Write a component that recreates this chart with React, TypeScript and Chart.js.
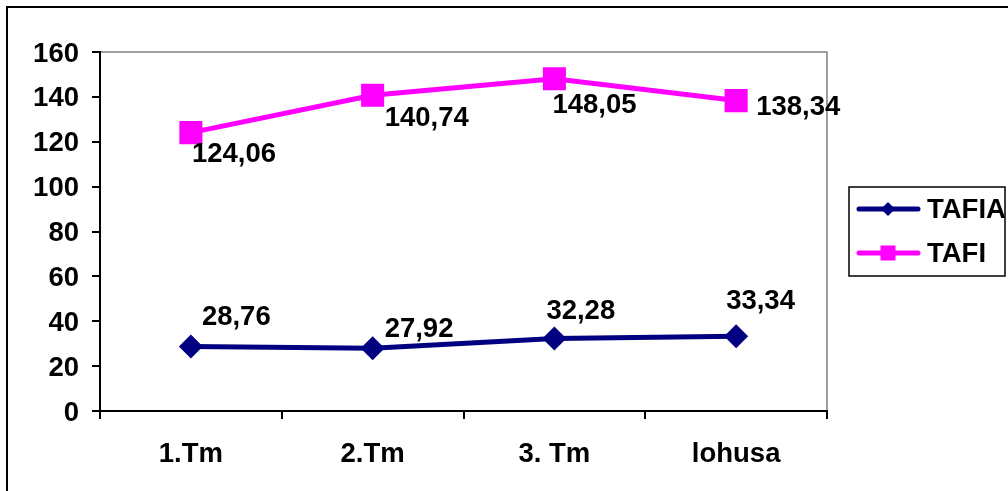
import React, { useEffect, useRef } from "react";
import { Chart, registerables } from "chart.js";

Chart.register(...registerables);

const categories = ["1.Tm", "2.Tm", "3. Tm", "lohusa"];
const tafiaValues = [28.76, 27.92, 32.28, 33.34];
const tafiValues = [124.06, 140.74, 148.05, 138.34];
const yTicks = [0, 20, 40, 60, 80, 100, 120, 140, 160];

// label offsets from each point (dx, dy), in pixels
const tafiaLabelOffsets = [[11, -29], [12, -19], [-8, -27], [-10, -35]];
const tafiLabelOffsets = [[1, 22], [12, 23], [-2, 27], [20, 7]];

const FONT = "'Liberation Sans', Arial, sans-serif";
const FONT_SIZE = 27.5;
const NAVY = "#000080";
const MAGENTA = "#FF00FF";

const fmt = (v: number) => v.toFixed(2).replace(".", ",");

const decorPlugin = {
  id: "decor",
  beforeDraw(chart: any) {
    const { ctx, chartArea } = chart;
    ctx.save();
    ctx.fillStyle = "#ffffff";
    ctx.fillRect(0, 0, chart.width, chart.height);
    // outer frame (left and top edges)
    ctx.strokeStyle = "#000000";
    ctx.lineWidth = 2;
    ctx.beginPath();
    ctx.moveTo(7, chart.height);
    ctx.lineTo(7, 7);
    ctx.lineTo(chart.width, 7);
    ctx.stroke();
    // plot area top/right edges
    ctx.strokeStyle = "#808080";
    ctx.lineWidth = 1.5;
    ctx.beginPath();
    ctx.moveTo(chartArea.left, chartArea.top);
    ctx.lineTo(chartArea.right, chartArea.top);
    ctx.lineTo(chartArea.right, chartArea.bottom);
    ctx.stroke();
    ctx.restore();
  },
  afterDraw(chart: any) {
    const { ctx } = chart;
    ctx.save();
    ctx.font = `bold ${FONT_SIZE}px ${FONT}`;
    ctx.fillStyle = "#000000";
    ctx.textAlign = "left";
    ctx.textBaseline = "middle";
    const sets = [
      { idx: 0, values: tafiaValues, offsets: tafiaLabelOffsets },
      { idx: 1, values: tafiValues, offsets: tafiLabelOffsets },
    ];
    sets.forEach(({ idx, values, offsets }) => {
      const meta = chart.getDatasetMeta(idx);
      meta.data.forEach((pt: any, i: number) => {
        ctx.fillText(fmt(values[i]), pt.x + offsets[i][0], pt.y + offsets[i][1]);
      });
    });

    // legend
    const lx = 849, ly = 187, lw = 156, lh = 89;
    ctx.strokeStyle = "#000000";
    ctx.lineWidth = 1.5;
    ctx.strokeRect(lx, ly, lw, lh);
    const items = [
      { label: "TAFIA", color: NAVY, style: "diamond", y: ly + 22 },
      { label: "TAFI", color: MAGENTA, style: "square", y: ly + 66 },
    ];
    items.forEach((it) => {
      ctx.strokeStyle = it.color;
      ctx.fillStyle = it.color;
      ctx.lineWidth = 5;
      ctx.lineCap = "round";
      ctx.beginPath();
      ctx.moveTo(lx + 10, it.y);
      ctx.lineTo(lx + 69, it.y);
      ctx.stroke();
      const cx = lx + 39;
      if (it.style === "diamond") {
        ctx.beginPath();
        ctx.moveTo(cx - 7, it.y);
        ctx.lineTo(cx, it.y - 7);
        ctx.lineTo(cx + 7, it.y);
        ctx.lineTo(cx, it.y + 7);
        ctx.closePath();
        ctx.fill();
      } else {
        ctx.fillRect(cx - 7.5, it.y - 7.5, 15, 15);
      }
      ctx.fillStyle = "#000000";
      ctx.font = `bold ${FONT_SIZE}px ${FONT}`;
      ctx.textBaseline = "middle";
      ctx.fillText(it.label, lx + 78, it.y + 1);
    });
    ctx.restore();
  },
};

export default function App() {
  const canvasRef = useRef<HTMLCanvasElement>(null);

  useEffect(() => {
    const canvas = canvasRef.current;
    if (!canvas) return;
    const chart = new Chart(canvas, {
      type: "line",
      data: {
        labels: categories,
        datasets: [
          {
            label: "TAFIA",
            data: tafiaValues,
            borderColor: NAVY,
            backgroundColor: NAVY,
            borderWidth: 5,
            pointStyle: "rectRot",
            pointRadius: 12,
            pointBorderWidth: 0,
            tension: 0,
          },
          {
            label: "TAFI",
            data: tafiValues,
            borderColor: MAGENTA,
            backgroundColor: MAGENTA,
            borderWidth: 5,
            pointStyle: "rect",
            pointRadius: 16.3,
            pointBorderWidth: 0,
            tension: 0,
          },
        ],
      },
      options: {
        responsive: false,
        animation: false,
        layout: { padding: { top: 52, right: 181, left: 0, bottom: 0 } },
        plugins: {
          legend: { display: false },
          tooltip: { enabled: false },
        },
        scales: {
          x: {
            offset: true,
            grid: {
              offset: true,
              drawOnChartArea: false,
              drawTicks: true,
              tickLength: 8,
              color: "#000000",
              lineWidth: 2,
            },
            border: { display: true, color: "#000000", width: 2 },
            ticks: {
              color: "#000000",
              font: { family: FONT, size: FONT_SIZE, weight: "bold" },
              padding: 19,
              maxRotation: 0,
            },
            afterFit: (scale: any) => {
              scale.height = 80;
            },
          },
          y: {
            min: 0,
            max: 160,
            afterBuildTicks: (scale: any) => {
              scale.ticks = yTicks.map((v) => ({ value: v }));
            },
            grid: {
              drawOnChartArea: false,
              drawTicks: true,
              tickLength: 8,
              color: "#000000",
              lineWidth: 2,
            },
            border: { display: true, color: "#000000", width: 2 },
            ticks: {
              color: "#000000",
              font: { family: FONT, size: FONT_SIZE, weight: "bold" },
              padding: 13,
              labelOffset: 2,
            },
            afterFit: (scale: any) => {
              scale.width = 100;
            },
          },
        },
      },
      plugins: [decorPlugin],
    });
    return () => chart.destroy();
  }, []);

  return (
    <div style={{ position: "fixed", left: 0, top: 0, width: 1008, height: 491, background: "#fff" }}>
      <canvas ref={canvasRef} width={1008} height={491} style={{ display: "block" }} />
    </div>
  );
}
